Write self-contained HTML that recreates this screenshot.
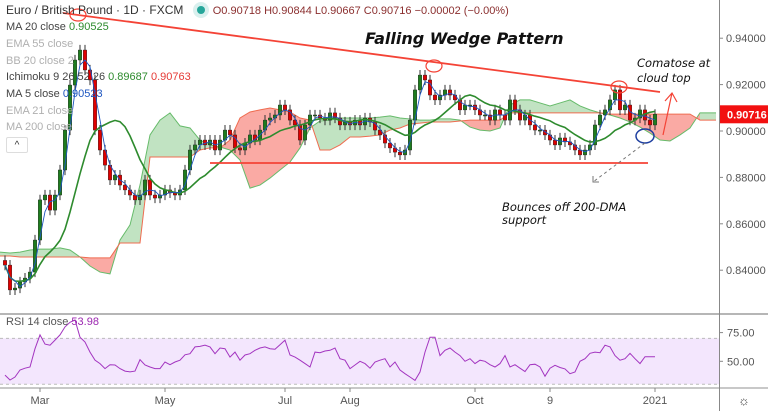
<!DOCTYPE html>
<html><head><meta charset="utf-8">
<style>
html,body{margin:0;padding:0;background:#fff;}
#wrap{position:relative;width:768px;height:411px;overflow:hidden;font-family:"Liberation Sans",sans-serif;}
svg{position:absolute;left:0;top:0;}
.leg{position:absolute;left:6px;font-size:11px;color:#444;white-space:nowrap;}
.leg.off{color:#b0b0b0;}
</style></head>
<body>
<div id="wrap">
<svg id="chart" width="768" height="411"></svg>
<div class="leg" style="top:3px;font-size:12px;color:#333">Euro / British Pound · 1D · FXCM <span style="display:inline-block;width:8px;height:8px;border-radius:50%;background:#26a69a;box-shadow:0 0 0 4px #d9f0ee;margin:0 8px 0 10px;vertical-align:0px"></span><span style="color:#8b2f2f;font-size:11px">O0.90718 H0.90844 L0.90667 C0.90716 −0.00002 (−0.00%)</span></div>
<div class="leg" style="top:21px">MA 20 close <span style="color:#2e8b2e">0.90525</span></div>
<div class="leg off" style="top:38px">EMA 55 close</div>
<div class="leg off" style="top:55px">BB 20 close 2</div>
<div class="leg" style="top:71px">Ichimoku 9 26 52 26 <span style="color:#2e8b2e">0.89687</span> <span style="color:#e53935">0.90763</span></div>
<div class="leg" style="top:88px">MA 5 close <span style="color:#1e56c0">0.90523</span></div>
<div class="leg off" style="top:105px">EMA 21 close</div>
<div class="leg off" style="top:121px">MA 200 close</div>
<div style="position:absolute;left:6px;top:137px;width:20px;height:14px;border:1px solid #ddd;border-radius:2px;font-size:10px;text-align:center;line-height:15px;color:#333">^</div>
<div class="leg" style="top:316px;color:#555">RSI 14 close <span style="color:#9c27b0">53.98</span></div>
</div>
<script>
const closes=[0.8422,0.8315,0.8323,0.8349,0.8366,0.8392,0.8530,0.8703,0.8724,0.8659,0.8724,0.8832,0.9004,0.9198,0.9306,0.9349,0.9263,0.9220,0.9004,0.8918,0.8853,0.8789,0.8810,0.8767,0.8746,0.8724,0.8703,0.8724,0.8789,0.8724,0.8711,0.8724,0.8746,0.8733,0.8724,0.8746,0.8832,0.8918,0.8940,0.8961,0.8940,0.8961,0.8918,0.8961,0.9004,0.8983,0.8927,0.8918,0.8948,0.8983,0.8961,0.9004,0.9047,0.9056,0.9069,0.9112,0.9091,0.9047,0.9026,0.8961,0.9026,0.9069,0.9069,0.9056,0.9047,0.9078,0.9056,0.9026,0.9039,0.9026,0.9047,0.9026,0.9056,0.9039,0.9004,0.8983,0.8948,0.8927,0.8909,0.8897,0.8918,0.9047,0.9177,0.9241,0.9220,0.9155,0.9134,0.9155,0.9177,0.9155,0.9134,0.9091,0.9112,0.9112,0.9091,0.9069,0.9069,0.9047,0.9091,0.9069,0.9047,0.9134,0.9091,0.9047,0.9069,0.9026,0.9004,0.9004,0.8983,0.8961,0.8940,0.8970,0.8953,0.8940,0.8918,0.8897,0.8918,0.8940,0.9026,0.9069,0.9091,0.9134,0.9177,0.9091,0.9112,0.9047,0.9056,0.9091,0.9047,0.9026,0.9072];
const spanA=[0.8478,0.8474,0.8478,0.8487,0.8491,0.8491,0.8496,0.8487,0.8457,0.8418,0.8392,0.8384,0.8530,0.8595,0.8767,0.8983,0.9047,0.9078,0.9022,0.9013,0.8961,0.8940,0.8931,0.8918,0.8875,0.8754,0.8767,0.8797,0.8832,0.8866,0.8927,0.9013,0.9043,0.9047,0.9056,0.9056,0.9056,0.9056,0.9060,0.9065,0.9056,0.9052,0.9047,0.9047,0.9052,0.9052,0.9047,0.9017,0.9004,0.9000,0.9013,0.9112,0.9134,0.9134,0.9121,0.9108,0.9121,0.9134,0.9108,0.9091,0.9078,0.9069,0.9056,0.9039,0.9017,0.8991,0.8961,0.8957,0.8983,0.9013,0.9078,0.9078,0.9078];
const spanB=[0.8461,0.8461,0.8457,0.8457,0.8457,0.8457,0.8457,0.8457,0.8457,0.8453,0.8453,0.8453,0.8517,0.8517,0.8517,0.8888,0.8888,0.8888,0.8888,0.8888,0.8918,0.8927,0.8927,0.8961,0.9056,0.9082,0.9091,0.9099,0.9091,0.9082,0.9056,0.9047,0.8918,0.8918,0.8940,0.8974,0.8974,0.8978,0.8983,0.9004,0.9013,0.9030,0.9034,0.9039,0.9039,0.9039,0.9043,0.9047,0.9047,0.9047,0.9047,0.9078,0.9078,0.9078,0.9078,0.9078,0.9078,0.9078,0.9078,0.9078,0.9078,0.9073,0.9073,0.9073,0.9073,0.9073,0.9073,0.9073,0.9073,0.9073,0.9047,0.9047,0.9047];
const rsi=[38,33.7,36.3,42.4,44,45,61,73,65,64,68.5,73,80,84,86,71,66.8,58,51,48,43.6,47,46.8,43.6,41.5,40.8,41.5,51.4,46.8,45,43.6,43.6,49.4,47,49.4,51,55.7,56.6,62.5,63,64,62.5,56.6,61.6,61,53.7,58,51,55.5,56.6,59.6,61.6,62.5,61,60.5,64.5,68.5,55.5,53.7,51,48,45,58,57.5,59,59.6,61.6,52.3,51,43.6,46.8,50,48,44,49.4,51,52.3,45,49.4,42.4,39.2,36.3,33.4,40.7,58,71,71,55,59.6,61.6,58,55,50,52.3,48,51,50,47,45,48,55,45,47,44,41,47,47.5,45,37,44,46.5,44.6,43.4,39.2,40.7,50,52.3,57,58,57.5,64,62.5,55,51,52.3,57,52.3,48,54,54,54];
const priceTicks=[0.84,0.86,0.88,0.90,0.92,0.94];
const rsiTicks=[50,75];
const timeLabels=["Mar","May","Jul","Aug","Oct","9","2021"];
const timeIdx=[7,32,56,69,94,109,130];

const svg=document.getElementById('chart');
const NS='http://www.w3.org/2000/svg';
function py(p){return 131-(p-0.90)*2320;}
function ry(r){return 361.3-(r-50)*1.148;}
function cx(i){return 5+i*5;}
function kx(i){return i*10;}
function mk(tag,attrs,parent){const e=document.createElementNS(NS,tag);for(const k in attrs)e.setAttribute(k,attrs[k]);(parent||svg).appendChild(e);return e;}

const g0=mk('g',{});


mk('line',{x1:0,y1:314,x2:768,y2:314,stroke:'#9e9e9e','stroke-width':1.5},g0);
mk('line',{x1:0,y1:388,x2:768,y2:388,stroke:'#c8c8c8','stroke-width':2},g0);
mk('line',{x1:719.5,y1:0,x2:719.5,y2:411,stroke:'#888','stroke-width':1},g0);

const gc=mk('g',{});


for(let i=0;i<spanA.length-1;i++){
  const x1=kx(i),x2=Math.min(kx(i+1),716);
  if(x1>=716)break;
  const up=(spanA[i]+spanA[i+1])>=(spanB[i]+spanB[i+1]);
  const q=mk('polygon',{points:`${x1},${py(spanA[i])} ${x2},${py(spanA[i+1])} ${x2},${py(spanB[i+1])} ${x1},${py(spanB[i])}`,fill:up?'rgba(76,175,80,0.35)':'rgba(244,67,54,0.45)',stroke:'none'},gc);
  
  
}
let pa='',pb='';
for(let i=0;i<spanA.length;i++){const x=Math.min(kx(i),716);pa+=(i?'L':'M')+x+','+py(spanA[i]);pb+=(i?'L':'M')+x+','+py(spanB[i]);}
const la=mk('path',{d:pa,fill:'none',stroke:'#66bb6a','stroke-width':1},gc);


const lb=mk('path',{d:pb,fill:'none',stroke:'#ef6c50','stroke-width':1},gc);



for(let i=0;i<closes.length;i++){
  const o=i?closes[i-1]:closes[0]+0.002,c=closes[i];
  const hi=Math.max(o,c)+0.0022,lo=Math.min(o,c)-0.0022;
  const x=cx(i);
  mk('line',{x1:x,y1:py(hi),x2:x,y2:py(lo),stroke:'#333','stroke-width':1});
  const up=c>=o;
  const r=mk('rect',{x:x-1.8,y:py(Math.max(o,c)),width:3.6,height:Math.max(1,Math.abs(py(o)-py(c))),fill:up?'#1e7d1e':'#e00000',stroke:'#222','stroke-width':0.4});
  
  
}
function ma(n){let d='';for(let i=0;i<closes.length;i++){const s=closes.slice(Math.max(0,i-n+1),i+1);const v=s.reduce((a,b)=>a+b,0)/s.length;d+=(i?'L':'M')+cx(i)+','+py(v).toFixed(1);}return d;}
const m20=mk('path',{d:ma(12),fill:'none',stroke:'#2e8b2e','stroke-width':1.6});


const m5=mk('path',{d:ma(3),fill:'none',stroke:'#1e56c0','stroke-width':0.9});



priceTicks.forEach(p=>{
  const t=mk('text',{x:726,y:py(p)+4,'font-size':11,fill:'#555','font-family':'Liberation Sans'});
  t.textContent=p.toFixed(5);
  
  
  mk('line',{x1:719,y1:py(p),x2:723,y2:py(p),stroke:'#888'});
});
const lastY=py(closes[closes.length-1]);
const pl=mk('rect',{x:720,y:lastY-9,width:48,height:18,fill:'#f21010'});


const plt=mk('text',{x:727,y:lastY+4,'font-size':11,'font-weight':'bold',fill:'#fff'});
plt.textContent='0.90716';

const ann=mk('g',{});


mk('line',{x1:63,y1:13,x2:660,y2:92,stroke:'#f44336','stroke-width':1.8},ann);
mk('line',{x1:210,y1:163,x2:648,y2:163,stroke:'#f44336','stroke-width':1.8},ann);
[[78,15],[434,66],[619,87]].forEach(c=>mk('ellipse',{cx:c[0],cy:c[1],rx:8,ry:6,fill:'none',stroke:'#f44336','stroke-width':1.2},ann));
mk('ellipse',{cx:645,cy:136,rx:9,ry:7,fill:'none',stroke:'#1e3fa0','stroke-width':1.5},ann);
mk('path',{d:'M663,135L672,93M665,101L672,93L677,102',fill:'none',stroke:'#f44336','stroke-width':1.2},ann);
mk('path',{d:'M645,143L593,182',fill:'none',stroke:'#777','stroke-width':1,'stroke-dasharray':'3,3'},ann);
mk('path',{d:'M593,176L593,182L599,182',fill:'none',stroke:'#777','stroke-width':1},ann);
function txt(s,x,y,sz,w){const t=mk('text',{x:x,y:y,'font-size':sz,'font-style':'italic','font-weight':w||'normal',fill:'#111','font-family':'DejaVu Sans'},ann);t.textContent=s;return t;}
txt('Falling Wedge Pattern',365,44,16,'bold');
txt('Comatose at',637,67,11.5);txt('cloud top',637,82,11.5);
txt('Bounces off 200-DMA',502,211,11.5);txt('support',502,224,11.5);

const gr=mk('g',{});


mk('rect',{x:0,y:ry(70),width:719,height:ry(30)-ry(70),fill:'#f3e6fd'},gr);
mk('line',{x1:0,y1:ry(70),x2:719,y2:ry(70),stroke:'#bbb','stroke-dasharray':'3,3'},gr);
mk('line',{x1:0,y1:ry(30),x2:719,y2:ry(30),stroke:'#bbb','stroke-dasharray':'3,3'},gr);
let rd='';rsi.forEach((v,i)=>{rd+=(i?'L':'M')+cx(i)+','+ry(v).toFixed(1);});
const rl=mk('path',{d:rd,fill:'none',stroke:'#a335c0','stroke-width':1},gr);


rsiTicks.forEach(v=>{const t=mk('text',{x:727,y:ry(v)+4,'font-size':11,fill:'#555'},gr);t.textContent=v.toFixed(2);mk('line',{x1:719,y1:ry(v),x2:723,y2:ry(v),stroke:'#888'},gr);});
txt('RSI holds',655,362,11.5);txt('above 50',655,376,11.5);

timeLabels.forEach((s,i)=>{const x=cx(timeIdx[i]);
  const t=mk('text',{x:x,y:404,'font-size':11,fill:'#555','text-anchor':'middle'});t.textContent=s;
  
  
  mk('line',{x1:x,y1:388,x2:x,y2:392,stroke:'#888'});});
const gear=mk('text',{x:744,y:405,'font-size':13,fill:'#444','text-anchor':'middle'});gear.textContent='☼';


</script>
</body></html>
